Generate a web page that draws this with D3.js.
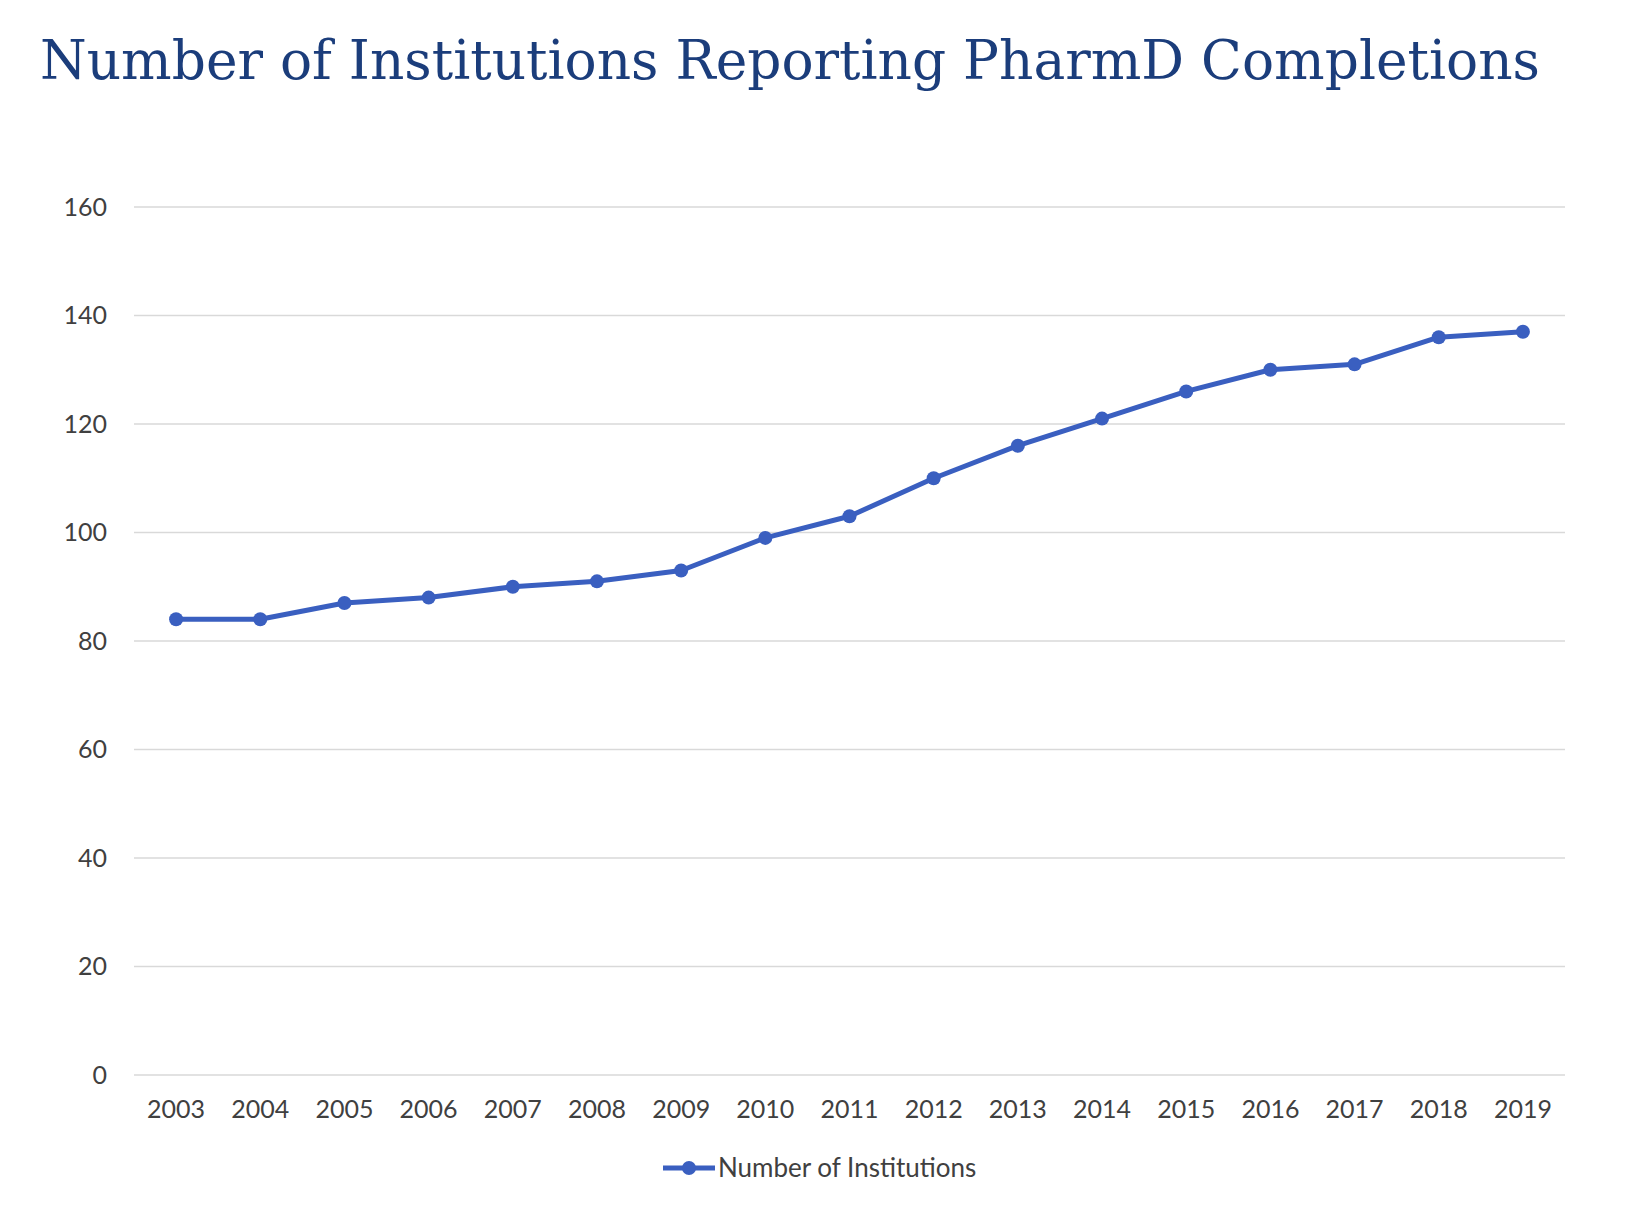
<!DOCTYPE html>
<html>
<head>
<meta charset="utf-8">
<script src="https://cdn.jsdelivr.net/npm/d3@7"></script>
<style>
  body { margin: 0; background: #fff; }
  svg { display: block; }
</style>
</head>
<body>
<div id="chart"></div>
<script>
// data
var years = ["2003","2004","2005","2006","2007","2008","2009","2010","2011","2012","2013","2014","2015","2016","2017","2018","2019"];
var institutions = [84, 84, 87, 88, 90, 91, 93, 99, 103, 110, 116, 121, 126, 130, 131, 136, 137];
var yTicks = [0, 20, 40, 60, 80, 100, 120, 140, 160];
var seriesName = "Number of Institutions";
var titleText = "Number of Institutions Reporting PharmD Completions";

var W = 1644, H = 1214;
var plotLeft = 134, plotRight = 1565, plotTop = 207, plotBottom = 1075;
var blue = "#3a5fc0";
var labelFont = "Lato, 'Open Sans', sans-serif";

var svg = d3.select("#chart").append("svg")
    .attr("width", W)
    .attr("height", H);

// title
svg.append("text")
    .attr("x", 40)
    .attr("y", 79)
    .attr("font-family", "DejaVu Serif")
    .attr("font-size", "54px")
    .attr("fill", "#1b3d7b")
    .attr("textLength", 1500)
    .attr("lengthAdjust", "spacingAndGlyphs")
    .text(titleText);

var x = d3.scaleBand().domain(years).range([plotLeft, plotRight]);
var y = d3.scaleLinear().domain([0, 160]).range([plotBottom, plotTop]);

// gridlines
svg.append("g").selectAll("line")
    .data(yTicks)
    .enter()
    .append("line")
    .attr("x1", plotLeft)
    .attr("x2", plotRight)
    .attr("y1", function(d) { return y(d); })
    .attr("y2", function(d) { return y(d); })
    .attr("stroke", "#d9d9d9")
    .attr("stroke-width", 1.5);

// y axis labels
var yAxis = d3.axisLeft(y).tickValues(yTicks).tickSize(0).tickPadding(0);
var gy = svg.append("g").attr("transform", "translate(107,0)").call(yAxis);
gy.select(".domain").remove();
gy.selectAll("text")
    .attr("font-family", labelFont)
    .attr("font-size", "25px")
    .attr("fill", "#404040");

// x axis labels
var xAxis = d3.axisBottom(x).tickSize(0).tickPadding(0);
var gx = svg.append("g").attr("transform", "translate(0," + (plotBottom + 25) + ")").call(xAxis);
gx.select(".domain").remove();
gx.selectAll("text")
    .attr("font-family", labelFont)
    .attr("font-size", "25px")
    .attr("fill", "#404040");

// the line
var line = d3.line()
    .x(function(d, i) { return x(years[i]) + x.bandwidth() / 2; })
    .y(function(d) { return y(d); });

svg.append("path")
    .datum(institutions)
    .attr("d", line)
    .attr("fill", "none")
    .attr("stroke", blue)
    .attr("stroke-width", 5)
    .attr("stroke-linejoin", "round");

svg.append("g").selectAll("circle")
    .data(institutions)
    .enter()
    .append("circle")
    .attr("cx", function(d, i) { return x(years[i]) + x.bandwidth() / 2; })
    .attr("cy", function(d) { return y(d); })
    .attr("r", 7)
    .attr("fill", blue);

// legend
var lg = svg.append("g").attr("transform", "translate(663,1168)");
lg.append("line")
    .attr("x1", 0).attr("x2", 52)
    .attr("y1", 0).attr("y2", 0)
    .attr("stroke", blue)
    .attr("stroke-width", 5);
lg.append("circle")
    .attr("cx", 26).attr("cy", 0).attr("r", 7)
    .attr("fill", blue);
lg.append("text")
    .attr("x", 55)
    .attr("y", 0)
    .attr("dy", "0.35em")
    .attr("font-family", labelFont)
    .attr("font-size", "26px")
    .attr("fill", "#404040")
    .text(seriesName);
</script>
</body>
</html>
